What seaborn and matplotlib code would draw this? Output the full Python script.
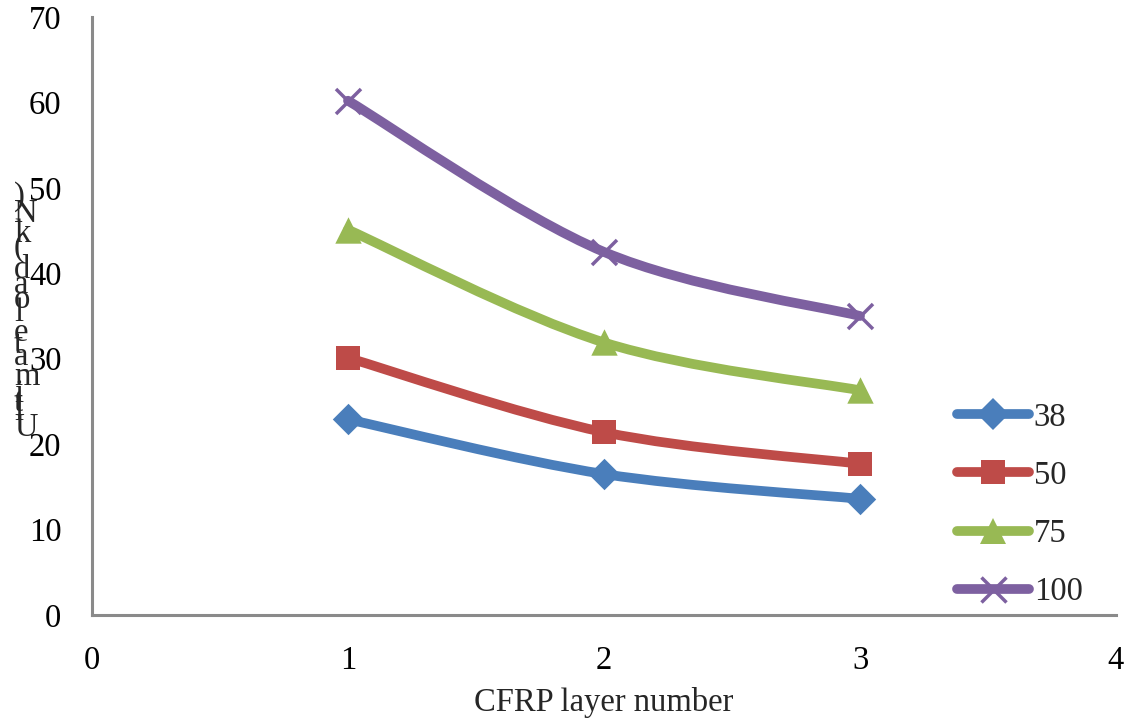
import numpy as np
import pandas as pd
import matplotlib
matplotlib.use("Agg")
import matplotlib.pyplot as plt
import seaborn as sns
from matplotlib.path import Path
from matplotlib.patches import PathPatch
from matplotlib.lines import Line2D
from matplotlib.font_manager import FontProperties, findfont
from matplotlib.ft2font import FT2Font

# Ultimate load (kN) against number of CFRP layers, one series per size
layers = [1, 2, 3]
series_names = ["38", "50", "75", "100"]
load_38 = [22.9, 16.5, 13.6]
load_50 = [30.1, 21.4, 17.7]
load_75 = [45.1, 31.9, 26.3]
load_100 = [60.2, 42.5, 35.0]

colors = ["#4A7EBB", "#BE4B48", "#98B954", "#7D60A0"]
markers = ["D", "s", "^", "x"]
marker_sizes = [16, 17, 19, 18]

df = pd.DataFrame({
    "layers": layers * 4,
    "load": load_38 + load_50 + load_75 + load_100,
    "series": [n for n in series_names for _ in layers],
})

sns.set_theme(style="white")
FONT = "Liberation Serif"
plt.rcParams["font.family"] = [FONT, "DejaVu Serif"]
FS = 23.5

fig = plt.figure(figsize=(11.3, 7.24), dpi=100)
W, H = 1130, 724
ax = fig.add_axes([92 / W, 109 / H, 1024 / W, 598 / H])


def smooth_path(xs, ys):
    """Cubic Bezier curve through the points (Catmull-Rom style tangents)."""
    pts = np.column_stack([xs, ys]).astype(float)
    n = len(pts)
    verts = [pts[0]]
    codes = [Path.MOVETO]
    for i in range(n - 1):
        p0 = pts[i - 1] if i > 0 else pts[i]
        p1 = pts[i]
        p2 = pts[i + 1]
        p3 = pts[i + 2] if i + 2 < n else pts[i + 1]
        c1 = p1 + (p2 - p0) / 6.0
        c2 = p2 - (p3 - p1) / 6.0
        verts += [c1, c2, p2]
        codes += [Path.CURVE4] * 3
    return Path(verts, codes)


for name, col, mk, ms in zip(series_names, colors, markers, marker_sizes):
    sub = df[df["series"] == name]
    patch = PathPatch(smooth_path(sub["layers"], sub["load"]), facecolor="none",
                      edgecolor=col, lw=7, capstyle="round", joinstyle="round",
                      transform=ax.transData, zorder=2)
    ax.add_patch(patch)
    if mk == "x":
        sns.scatterplot(data=sub, x="layers", y="load", ax=ax, marker="x",
                        s=ms ** 2, color=col, linewidth=2.5, zorder=3, legend=False)
    else:
        sns.scatterplot(data=sub, x="layers", y="load", ax=ax, marker=mk,
                        s=ms ** 2, color=col, edgecolor=col, linewidth=0,
                        zorder=3, legend=False)

ax.set_xlim(0, 4)
ax.set_ylim(0, 70)
ax.set_xticks(range(0, 5))
ax.set_yticks(range(0, 71, 10))
ax.set_xlabel("")
ax.set_ylabel("")

spine_col = "#8A8A8A"
for s in ["top", "right"]:
    ax.spines[s].set_visible(False)
for s in ["left", "bottom"]:
    ax.spines[s].set_color(spine_col)
    ax.spines[s].set_linewidth(2.2)
ax.tick_params(axis="both", direction="out", length=8, width=2.2,
               color=spine_col, labelsize=FS, labelcolor="black")
ax.tick_params(axis="y", pad=14)
ax.tick_params(axis="x", pad=14)
for lab in ax.get_xticklabels() + ax.get_yticklabels():
    lab.set_fontfamily(FONT)

# x-axis title, centred under the plot area
fig.text(604 / W, 1 - 703 / H, "CFRP layer number", ha="center", va="center",
         fontsize=FS, family=FONT)

# y-axis title: upright characters stacked from bottom to top
ylabel = "Ultimate load (kN)"
prop = FontProperties(family=FONT, size=FS)
ft = FT2Font(findfont(prop))
ft.set_size(FS, 100)
adv = []
for ch in ylabel:
    g = ft.load_char(ord(ch))
    adv.append(g.linearHoriAdvance / 65536.0)
y_px = 428.0
prev = None
for ch, a in zip(ylabel, adv):
    if prev is not None:
        y_px -= prev / 2 + a / 2
    if ch != " ":
        fig.text(14 / W, 1 - y_px / H, ch, ha="left", va="center",
                 fontsize=FS, family=FONT)
    prev = a

# legend
handles = [Line2D([0], [0], color=c, lw=7, marker=m,
                  markersize=ms, markeredgewidth=2.5 if m == "x" else 0,
                  markeredgecolor=c, solid_capstyle="round")
           for c, m, ms in zip(colors, markers, marker_sizes)]
fig.legend(handles, series_names, loc="upper left",
           bbox_to_anchor=(957 / W, 1 - 402 / H), frameon=False,
           prop={"family": FONT, "size": FS}, handlelength=2.2,
           handletextpad=0.15, labelspacing=0.85, borderpad=0, borderaxespad=0)

fig.savefig("out.png", dpi=100)
